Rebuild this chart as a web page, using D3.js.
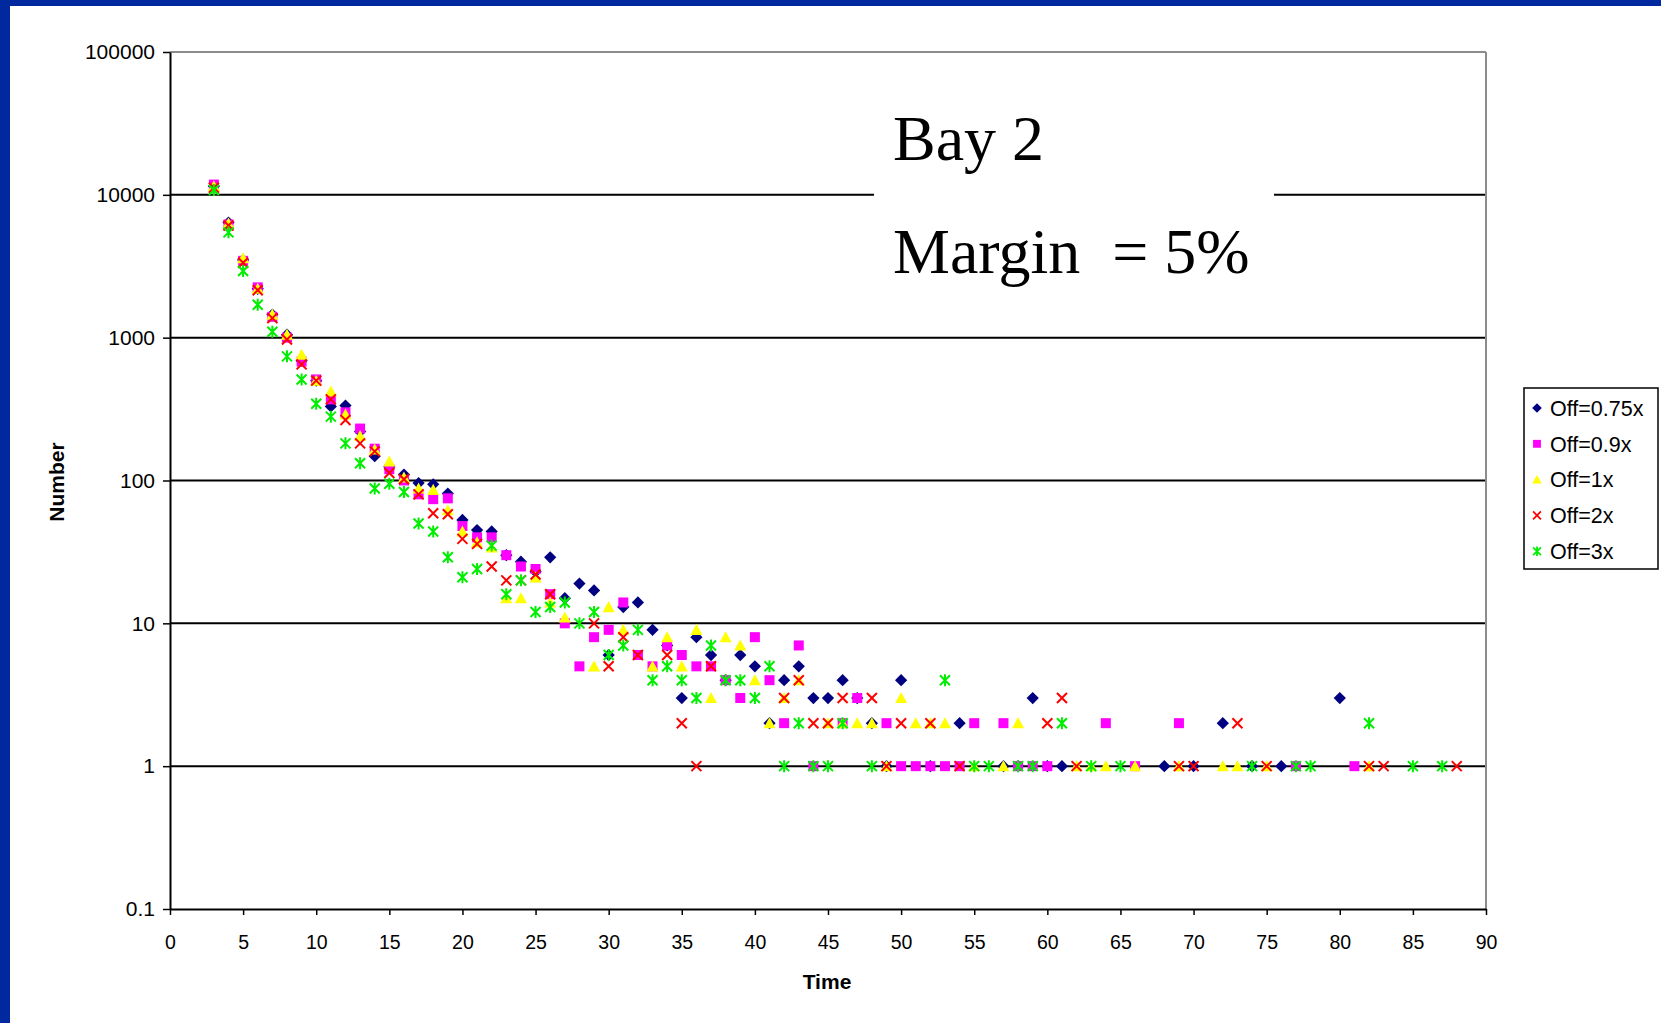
<!DOCTYPE html>
<html>
<head>
<meta charset="utf-8">
<script src="https://cdn.jsdelivr.net/npm/d3@7"></script>
<style>
  body { margin: 0; background: #fff; }
  svg { display: block; }
</style>
</head>
<body>
<div id="chart"></div>
<script>
// [time, number] pairs
var off075 = [[3,11500],[4,6400],[5,3500],[6,2200],[7,1450],[8,1050],[9,690],[10,500],[11,330],[12,335],[13,220],[14,148],[15,125],[16,110],[17,96],[18,94],[19,81],[20,53],[21,45],[22,44],[23,30],[24,27],[25,23],[26,29],[27,15],[28,19],[29,17],[30,6],[31,13],[32,14],[33,9],[34,7],[35,3],[36,8],[37,6],[38,4],[39,6],[40,5],[41,2],[42,4],[43,5],[44,3],[45,3],[46,4],[47,3],[48,2],[49,1],[50,4],[52,1],[54,2],[57,1],[58,1],[59,3],[60,1],[61,1],[68,1],[70,1],[72,2],[74,1],[76,1],[80,3]];
var off09 = [[3,11800],[4,6200],[5,3450],[6,2250],[7,1400],[8,1000],[9,680],[10,510],[11,370],[12,300],[13,231],[14,167],[15,120],[16,100],[17,80],[18,74],[19,75],[20,48],[21,40],[22,40],[23,30],[24,25],[25,24],[26,16],[27,10],[28,5],[29,8],[30,9],[31,14],[32,6],[33,5],[34,7],[35,6],[36,5],[37,5],[38,4],[39,3],[40,8],[41,4],[42,2],[43,7],[44,1],[46,2],[47,3],[49,2],[50,1],[51,1],[52,1],[53,1],[54,1],[55,2],[57,2],[58,1],[59,1],[60,1],[64,2],[66,1],[69,2],[77,1],[81,1]];
var off1 = [[3,11500],[4,6300],[5,3600],[6,2200],[7,1450],[8,1050],[9,760],[10,500],[11,420],[12,290],[13,205],[14,165],[15,136],[16,105],[17,88],[18,86],[19,62],[20,44],[21,37],[22,34],[23,15],[24,15],[25,21],[26,14],[27,11],[29,5],[30,13],[31,9],[33,5],[34,8],[35,5],[36,9],[37,3],[38,8],[39,7],[40,4],[41,2],[42,3],[43,4],[45,2],[46,2],[47,2],[48,2],[49,1],[50,3],[51,2],[52,2],[53,2],[55,1],[57,1],[58,2],[62,1],[63,1],[64,1],[66,1],[69,1],[72,1],[73,1],[75,1],[82,1]];
var off2 = [[3,11200],[4,6100],[5,3350],[6,2150],[7,1370],[8,970],[9,650],[10,500],[11,370],[12,265],[13,182],[14,160],[15,113],[16,102],[17,80],[18,59],[19,58],[20,39],[21,36],[22,25],[23,20],[24,20],[25,22],[26,16],[29,10],[30,5],[31,8],[32,6],[34,6],[35,2],[36,1],[37,5],[42,3],[43,4],[44,2],[45,2],[46,3],[48,3],[49,1],[50,2],[52,2],[54,1],[60,2],[61,3],[62,1],[69,1],[70,1],[73,2],[75,1],[82,1],[83,1],[88,1]];
var off3 = [[3,10800],[4,5460],[5,2930],[6,1700],[7,1100],[8,740],[9,510],[10,345],[11,280],[12,182],[13,132],[14,88],[15,95],[16,83],[17,50],[18,44],[19,29],[20,21],[21,24],[22,35],[23,16],[24,20],[25,12],[26,13],[27,14],[28,10],[29,12],[30,6],[31,7],[32,9],[33,4],[34,5],[35,4],[36,3],[37,7],[38,4],[39,4],[40,3],[41,5],[42,1],[43,2],[44,1],[45,1],[46,2],[48,1],[53,4],[55,1],[56,1],[58,1],[59,1],[61,2],[63,1],[65,1],[74,1],[77,1],[78,1],[82,2],[85,1],[87,1]];

var seriesNames = ["Off=0.75x", "Off=0.9x", "Off=1x", "Off=2x", "Off=3x"];
var yTickValues = [0.1, 1, 10, 100, 1000, 10000, 100000];
var yTickLabels = ["0.1", "1", "10", "100", "1000", "10000", "100000"];
var xTickValues = [0, 5, 10, 15, 20, 25, 30, 35, 40, 45, 50, 55, 60, 65, 70, 75, 80, 85, 90];
var titleLines = ["Bay 2", "Margin  = 5%"];

var width = 1661, height = 1023;
var plot = { left: 170, right: 1486, top: 52, bottom: 909 };
var font = "'Liberation Sans', Arial, sans-serif";

// excel style markers as custom d3 symbol types
var markDiamond = { draw: function (p, size) {
    var r = Math.sqrt(size) / 2;
    p.moveTo(0, -r); p.lineTo(r, 0); p.lineTo(0, r); p.lineTo(-r, 0); p.closePath();
} };
var markSquare = { draw: function (p, size) {
    var r = Math.sqrt(size) / 2;
    p.rect(-r, -r, 2 * r, 2 * r);
} };
var markTriangle = { draw: function (p, size) {
    var r = Math.sqrt(size) / 2;
    p.moveTo(0, -r); p.lineTo(r, 0.85 * r); p.lineTo(-r, 0.85 * r); p.closePath();
} };
var markX = { draw: function (p, size) {
    var r = Math.sqrt(size) / 2;
    p.moveTo(-r, -r); p.lineTo(r, r); p.moveTo(-r, r); p.lineTo(r, -r);
} };
var markStar = { draw: function (p, size) {
    var r = Math.sqrt(size) / 2;
    p.moveTo(-r, -r); p.lineTo(r, r); p.moveTo(-r, r); p.lineTo(r, -r);
    p.moveTo(0, -1.2 * r); p.lineTo(0, 1.2 * r);
} };

var series = [
    { name: seriesNames[0], data: off075, type: markDiamond, size: 150, fill: "#000080", stroke: "none" },
    { name: seriesNames[1], data: off09, type: markSquare, size: 100, fill: "#ff00ff", stroke: "none" },
    { name: seriesNames[2], data: off1, type: markTriangle, size: 144, fill: "#ffff00", stroke: "none" },
    { name: seriesNames[3], data: off2, type: markX, size: 100, fill: "none", stroke: "#ff0000" },
    { name: seriesNames[4], data: off3, type: markStar, size: 100, fill: "none", stroke: "#00ee00" }
];

var x = d3.scaleLinear().domain([0, 90]).range([plot.left, plot.right]);
var y = d3.scaleLog().domain([0.1, 100000]).range([plot.bottom, plot.top]);

var svg = d3.select("#chart").append("svg")
    .attr("width", width)
    .attr("height", height);

svg.append("rect").attr("width", width).attr("height", height).attr("fill", "#fff");

// blue slide frame
svg.append("rect").attr("x", 0).attr("y", 0).attr("width", width).attr("height", 6).attr("fill", "#0029a0");
svg.append("rect").attr("x", 0).attr("y", 0).attr("width", 10).attr("height", height).attr("fill", "#0029a0");

// grid lines
svg.append("g").selectAll("line")
    .data(yTickValues.slice(1))
    .enter().append("line")
    .attr("x1", plot.left).attr("x2", plot.right)
    .attr("y1", function (d) { return y(d); })
    .attr("y2", function (d) { return y(d); })
    .attr("stroke", function (d) { return d == 100000 ? "#8c8c8c" : "#000"; })
    .attr("stroke-width", 2);

// right border of plot area
svg.append("line")
    .attr("x1", plot.right).attr("x2", plot.right)
    .attr("y1", plot.top).attr("y2", plot.bottom)
    .attr("stroke", "#8c8c8c").attr("stroke-width", 2);

// white title box that hides the grid line
svg.append("rect")
    .attr("x", 874).attr("y", 92).attr("width", 400).attr("height", 205)
    .attr("fill", "#fff");

svg.append("g").selectAll("text")
    .data(titleLines)
    .enter().append("text")
    .attr("x", 893)
    .attr("y", function (d, i) { return 160 + i * 113; })
    .style("font-family", "'Liberation Serif', 'Times New Roman', serif")
    .style("font-size", "64px")
    .style("white-space", "pre")
    .text(function (d) { return d; });

var yAxis = d3.axisLeft(y)
    .tickValues(yTickValues)
    .tickFormat(function (d, i) { return yTickLabels[i]; })
    .tickSize(7)
    .tickSizeOuter(0)
    .tickPadding(8);

var gy = svg.append("g")
    .attr("transform", "translate(" + plot.left + ",0)")
    .call(yAxis);
gy.select(".domain").attr("stroke", "#000").attr("stroke-width", 2);
gy.selectAll(".tick line").attr("stroke", "#000").attr("stroke-width", 1.5);
gy.selectAll(".tick text")
    .style("font-family", font).style("font-size", "21px").attr("fill", "#000");

var xAxis = d3.axisBottom(x)
    .tickValues(xTickValues)
    .tickSize(6)
    .tickSizeOuter(0)
    .tickPadding(20);

var gx = svg.append("g")
    .attr("transform", "translate(0," + plot.bottom + ")")
    .call(xAxis);
gx.select(".domain").attr("stroke", "#000").attr("stroke-width", 2);
gx.selectAll(".tick line").attr("stroke", "#000").attr("stroke-width", 1.5);
gx.selectAll(".tick text")
    .style("font-family", font).style("font-size", "19.5px").attr("fill", "#000");

svg.append("text")
    .attr("x", 827).attr("y", 989)
    .attr("text-anchor", "middle")
    .style("font-family", font).style("font-size", "21px").style("font-weight", "bold")
    .text("Time");

svg.append("text")
    .attr("transform", "translate(64,482) rotate(-90)")
    .attr("text-anchor", "middle")
    .style("font-family", font).style("font-size", "21px").style("font-weight", "bold")
    .text("Number");

// points, drawn series by series like excel does
series.forEach(function (s) {
    var sym = d3.symbol().type(s.type).size(s.size);
    svg.append("g").selectAll("path")
        .data(s.data)
        .enter().append("path")
        .attr("transform", function (d) { return "translate(" + x(d[0]) + "," + y(d[1]) + ")"; })
        .attr("d", sym)
        .attr("fill", s.fill)
        .attr("stroke", s.stroke)
        .attr("stroke-width", 2);
});

// legend
var legend = svg.append("g");
legend.append("rect")
    .attr("x", 1524).attr("y", 388).attr("width", 134).attr("height", 181)
    .attr("fill", "#fff").attr("stroke", "#000").attr("stroke-width", 1.5);

var item = legend.selectAll(".item")
    .data(series)
    .enter().append("g")
    .attr("class", "item")
    .attr("transform", function (d, i) { return "translate(1537," + (408 + i * 35.8) + ")"; });

item.append("path")
    .attr("d", function (d) { return d3.symbol().type(d.type).size(d.size * 0.62)(); })
    .attr("fill", function (d) { return d.fill; })
    .attr("stroke", function (d) { return d.stroke; })
    .attr("stroke-width", 1.8);

item.append("text")
    .attr("x", 13).attr("y", 0).attr("dy", "0.36em")
    .style("font-family", font).style("font-size", "21.5px")
    .text(function (d) { return d.name; });
</script>
</body>
</html>
